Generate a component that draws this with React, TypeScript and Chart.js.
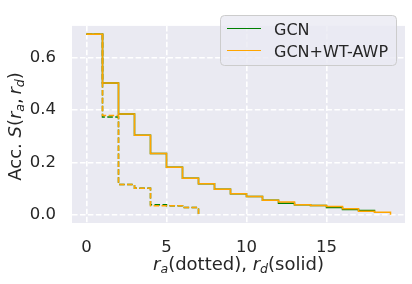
import React, { useEffect, useRef } from "react";
import { Chart, registerables } from "chart.js";

Chart.register(...registerables);

// ---- data ----
const rdSteps = [0, 1, 2, 3, 4, 5, 6, 7, 8, 9, 10, 11, 12, 13, 14, 15, 16, 17, 18, 19];
const awpSolid = [0.69, 0.504, 0.385, 0.304, 0.234, 0.181, 0.139, 0.118, 0.097, 0.08, 0.069, 0.055, 0.048, 0.038, 0.035, 0.031, 0.023, 0.013, 0.0095, 0.0];
const gcnSteps = [0, 1, 2, 3, 4, 5, 6, 7, 8, 9, 10, 11, 12, 13, 14, 15, 16, 17, 18];
const gcnSolid = [0.69, 0.504, 0.385, 0.304, 0.234, 0.181, 0.139, 0.118, 0.097, 0.08, 0.069, 0.055, 0.044, 0.038, 0.035, 0.027, 0.02, 0.016, 0.0095];
const raSteps = [0, 1, 2, 3, 4, 5, 6, 7];
const gcnDotted = [0.69, 0.374, 0.115, 0.101, 0.0375, 0.034, 0.027, 0.0];
const awpDotted = [0.69, 0.379, 0.115, 0.101, 0.034, 0.034, 0.027, 0.0];

const xTickValues = [0, 5, 10, 15];
const yTickValues = [0, 0.2, 0.4, 0.6];
const yTickLabels = ["0.0", "0.2", "0.4", "0.6"];
const legendLabels = ["GCN", "GCN+WT-AWP"];
const seriesColors = ["green", "orange"];

const FONT = "'DejaVu Sans'";
const TEXT = "#262626";
const BG = "#EAEAF2";

type Part = { t: string; it?: boolean; sub?: boolean };

function richWidth(ctx: CanvasRenderingContext2D, parts: Part[], size: number) {
  let w = 0;
  for (const p of parts) {
    const s = p.sub ? size * 0.7 : size;
    ctx.font = `${p.it ? "italic " : ""}${s}px ${FONT}`;
    w += ctx.measureText(p.t).width;
  }
  return w;
}

function drawRich(ctx: CanvasRenderingContext2D, parts: Part[], cx: number, baseline: number, size: number) {
  const total = richWidth(ctx, parts, size);
  let x = cx - total / 2;
  ctx.textAlign = "left";
  ctx.textBaseline = "alphabetic";
  ctx.fillStyle = TEXT;
  for (const p of parts) {
    const s = p.sub ? size * 0.7 : size;
    ctx.font = `${p.it ? "italic " : ""}${s}px ${FONT}`;
    ctx.fillText(p.t, x, baseline + (p.sub ? size * 0.17 : 0));
    x += ctx.measureText(p.t).width;
  }
}

const xTitle: Part[] = [
  { t: "r", it: true },
  { t: "a", it: true, sub: true },
  { t: "(dotted), " },
  { t: "r", it: true },
  { t: "d", it: true, sub: true },
  { t: "(solid)" },
];
const yTitle: Part[] = [
  { t: "Acc. " },
  { t: "S", it: true },
  { t: "(" },
  { t: "r", it: true },
  { t: "a", it: true, sub: true },
  { t: ",\u2009" },
  { t: "r", it: true },
  { t: "d", it: true, sub: true },
  { t: ")" },
];

const decor = {
  id: "decor",
  beforeDraw(chart: any) {
    const { ctx, chartArea: a } = chart;
    ctx.save();
    ctx.fillStyle = BG;
    ctx.fillRect(a.left, a.top, a.right - a.left, a.bottom - a.top);
    ctx.restore();
  },
  afterDraw(chart: any) {
    const { ctx, chartArea: a } = chart;
    ctx.save();
    // x title
    drawRich(ctx, xTitle, (a.left + a.right) / 2, 270, 18);
    // y title
    ctx.save();
    ctx.translate(21, (a.top + a.bottom) / 2 + 2);
    ctx.rotate(-Math.PI / 2);
    drawRich(ctx, yTitle, 0, 0, 18);
    ctx.restore();
    // legend
    const lx = 220.5, ly = 15.5, lw = 176, lh = 50, r = 4;
    ctx.beginPath();
    ctx.moveTo(lx + r, ly);
    ctx.lineTo(lx + lw - r, ly);
    ctx.arcTo(lx + lw, ly, lx + lw, ly + r, r);
    ctx.lineTo(lx + lw, ly + lh - r);
    ctx.arcTo(lx + lw, ly + lh, lx + lw - r, ly + lh, r);
    ctx.lineTo(lx + r, ly + lh);
    ctx.arcTo(lx, ly + lh, lx, ly + lh - r, r);
    ctx.lineTo(lx, ly + r);
    ctx.arcTo(lx, ly, lx + r, ly, r);
    ctx.closePath();
    ctx.fillStyle = "rgba(234,234,242,0.8)";
    ctx.fill();
    ctx.strokeStyle = "#CCCCCC";
    ctx.lineWidth = 1;
    ctx.stroke();
    const rows = [28.5, 50.5];
    legendLabels.forEach((lab, i) => {
      ctx.beginPath();
      ctx.strokeStyle = seriesColors[i];
      ctx.lineWidth = 1;
      ctx.moveTo(227, rows[i]);
      ctx.lineTo(261, rows[i]);
      ctx.stroke();
      ctx.fillStyle = TEXT;
      ctx.font = `16px ${FONT}`;
      ctx.textAlign = "left";
      ctx.textBaseline = "alphabetic";
      ctx.fillText(lab, 274, rows[i] + 6);
    });
    ctx.restore();
  },
};

function pts(xs: number[], ys: number[]) {
  return xs.map((x, i) => ({ x, y: ys[i] }));
}

const DASH = [5.55, 2.4];

export default function App() {
  const ref = useRef<HTMLCanvasElement | null>(null);
  useEffect(() => {
    if (!ref.current) return;
    const common = { pointRadius: 0, borderWidth: 1.5, stepped: "before" as const, fill: false };
    const chart = new Chart(ref.current, {
      type: "line",
      data: {
        datasets: [
          { ...common, label: "GCN rd", data: pts(gcnSteps, gcnSolid), borderColor: seriesColors[0], order: 2 },
          { ...common, label: "GCN ra", data: pts(raSteps, gcnDotted), borderColor: seriesColors[0], borderDash: DASH, order: 2 },
          { ...common, label: "AWP rd", data: pts(rdSteps, awpSolid), borderColor: seriesColors[1], order: 1 },
          { ...common, label: "AWP ra", data: pts(raSteps, awpDotted), borderColor: seriesColors[1], borderDash: DASH, order: 1 },
        ],
      },
      options: {
        animation: false,
        responsive: false,
        devicePixelRatio: 1,
        layout: { padding: { top: 8, right: 7, left: 0, bottom: 0 } },
        plugins: { legend: { display: false }, tooltip: { enabled: false } },
        scales: {
          x: {
            type: "linear",
            min: -0.90625,
            max: 19.90625,
            afterBuildTicks: (s: any) => {
              s.ticks = xTickValues.map((v) => ({ value: v }));
            },
            afterFit: (s: any) => {
              s.height = 61;
            },
            grid: { color: "#FFFFFF", lineWidth: 1.6, drawTicks: false },
            border: { display: false, dash: DASH },
            ticks: {
              padding: 15,
              color: TEXT,
              font: { family: "DejaVu Sans", size: 16.5 },
              callback: (v: any) => String(v),
              maxRotation: 0,
            },
          },
          y: {
            type: "linear",
            min: -0.032,
            max: 0.7224,
            afterBuildTicks: (s: any) => {
              s.ticks = yTickValues.map((v) => ({ value: v }));
            },
            afterFit: (s: any) => {
              s.width = 72;
            },
            grid: { color: "#FFFFFF", lineWidth: 1.6, drawTicks: false },
            border: { display: false, dash: DASH },
            ticks: {
              padding: 16,
              color: TEXT,
              font: { family: "DejaVu Sans", size: 16.5 },
              callback: (_v: any, i: number) => yTickLabels[i],
            },
          },
        },
      },
      plugins: [decor],
    });
    return () => chart.destroy();
  }, []);
  return (
    <div style={{ position: "fixed", left: 0, top: 0, width: 412, height: 284, background: "#FFFFFF" }}>
      <canvas ref={ref} width={412} height={284} style={{ display: "block" }} />
    </div>
  );
}
